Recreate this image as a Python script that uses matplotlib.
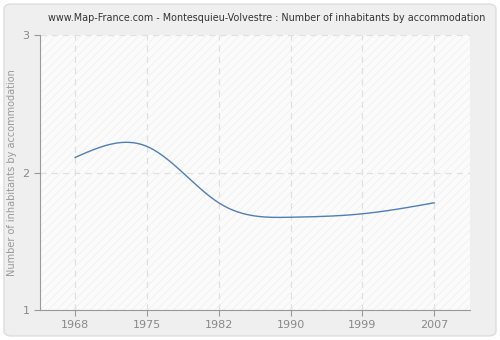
import numpy as np
import matplotlib
matplotlib.use("Agg")
import matplotlib.pyplot as plt
from matplotlib.patches import FancyBboxPatch

years = ["1968", "1975", "1982", "1990", "1999", "2007"]
values = [2.11, 2.19, 1.78, 1.675, 1.70, 1.78]
title = "www.Map-France.com - Montesquieu-Volvestre : Number of inhabitants by accommodation"
ylabel = "Number of inhabitants by accommodation"


def natural_spline(x, y, xs):
    # natural cubic spline through the points, just for drawing the smooth line
    x = np.asarray(x, float)
    y = np.asarray(y, float)
    n = len(x)
    h = np.diff(x)
    A = np.zeros((n, n))
    b = np.zeros(n)
    A[0, 0] = 1
    A[-1, -1] = 1
    for i in range(1, n - 1):
        A[i, i - 1] = h[i - 1]
        A[i, i] = 2 * (h[i - 1] + h[i])
        A[i, i + 1] = h[i]
        b[i] = 3 * ((y[i + 1] - y[i]) / h[i] - (y[i] - y[i - 1]) / h[i - 1])
    c = np.linalg.solve(A, b)
    out = np.empty_like(xs)
    for k, t in enumerate(xs):
        i = min(np.searchsorted(x, t, side="right") - 1, n - 2)
        i = max(i, 0)
        dx = t - x[i]
        bb = (y[i + 1] - y[i]) / h[i] - h[i] * (2 * c[i] + c[i + 1]) / 3
        d = (c[i + 1] - c[i]) / (3 * h[i])
        out[k] = y[i] + bb * dx + c[i] * dx ** 2 + d * dx ** 3
    return out


fig = plt.figure(figsize=(5, 3.4), dpi=100)
fig.patch.set_facecolor("white")
bg = FancyBboxPatch((0.008, 0.012), 0.984, 0.976, boxstyle="round,pad=0,rounding_size=0.015",
                    transform=fig.transFigure, facecolor="#efefef", edgecolor="#dddddd",
                    linewidth=1, zorder=-10)
fig.patches.append(bg)

ax = fig.add_axes([0.08, 0.088, 0.86, 0.809])
ax.set_zorder(1)
ax.set_facecolor("#fbfbfb")
plt.rcParams["hatch.linewidth"] = 0.6
ax.add_patch(plt.Rectangle((0, 0), 1, 1, transform=ax.transAxes, facecolor="none",
                           edgecolor="#f0f0f0", hatch="////", linewidth=0, zorder=0))

pos = np.arange(len(years))
xs = np.linspace(0, len(years) - 1, 300)
ax.plot(xs, natural_spline(pos, values, xs), color="#4f7fb3", linewidth=1, zorder=3)

ax.set_xlim(-0.49, 5.5)
ax.set_ylim(1, 3)
ax.set_xticks(pos)
ax.set_xticklabels(years)
ax.set_yticks([1, 2, 3])
ax.grid(True, color="#e0e0e0", linestyle=(0, (5, 4)), linewidth=0.9)
ax.set_axisbelow(True)

for s in ["top", "right"]:
    ax.spines[s].set_visible(False)
for s in ["left", "bottom"]:
    ax.spines[s].set_color("#999999")
ax.tick_params(colors="#999999", labelcolor="#888888", labelsize=8, length=4, width=0.8)

ax.set_ylabel(ylabel, color="#999999", fontsize=7)
fig.text(0.534, 1 - 18 / 340, title, fontsize=6.9, color="#333333", ha="center", va="center")

plt.savefig("out.png", dpi=100, facecolor=fig.get_facecolor())
